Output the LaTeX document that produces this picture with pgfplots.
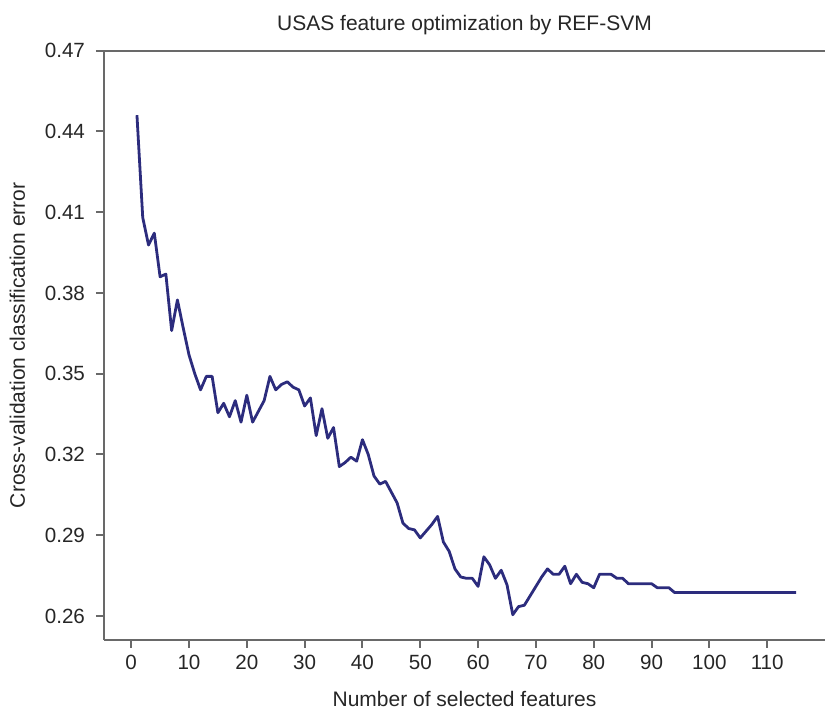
\documentclass[border=0pt]{standalone}
\usepackage{pgfplots}
\pgfplotsset{compat=1.18}
\usepackage{pgfplotstable}
\usepackage{fontspec}
\setmainfont{Liberation Sans}
\definecolor{linecol}{RGB}{44,44,125}
\definecolor{axcol}{RGB}{105,105,105}
\pgfplotstableread{
x y
1 0.446
2 0.408
3 0.3978
4 0.4022
5 0.386
6 0.387
7 0.366
8 0.3774
9 0.367
10 0.357
11 0.350
12 0.344
13 0.349
14 0.349
15 0.3355
16 0.339
17 0.334
18 0.340
19 0.332
20 0.342
21 0.332
22 0.336
23 0.340
24 0.349
25 0.344
26 0.346
27 0.347
28 0.345
29 0.344
30 0.338
31 0.341
32 0.327
33 0.337
34 0.326
35 0.330
36 0.3155
37 0.317
38 0.319
39 0.3175
40 0.3255
41 0.320
42 0.312
43 0.309
44 0.310
45 0.306
46 0.302
47 0.2945
48 0.2925
49 0.292
50 0.289
51 0.2915
52 0.294
53 0.297
54 0.2875
55 0.284
56 0.2775
57 0.2745
58 0.274
59 0.274
60 0.271
61 0.282
62 0.279
63 0.274
64 0.277
65 0.2716
66 0.2605
67 0.2635
68 0.264
69 0.2675
70 0.271
71 0.2745
72 0.2775
73 0.2755
74 0.2755
75 0.2785
76 0.272
77 0.2755
78 0.2725
79 0.272
80 0.2705
81 0.2755
82 0.2755
83 0.2755
84 0.274
85 0.274
86 0.272
87 0.272
88 0.272
89 0.272
90 0.272
91 0.2705
92 0.2705
93 0.2705
94 0.2687
95 0.2687
96 0.2687
97 0.2687
98 0.2687
99 0.2687
100 0.2687
101 0.2687
102 0.2687
103 0.2687
104 0.2687
105 0.2687
106 0.2687
107 0.2687
108 0.2687
109 0.2687
110 0.2687
111 0.2687
112 0.2687
113 0.2687
114 0.2687
115 0.2687
}\datatable
\begin{document}
\begin{tikzpicture}
\begin{axis}[
  scale only axis,
  width=360.5pt, height=294.7pt,
  xmin=-4.7, xmax=120,
  ymin=0.2511, ymax=0.47,
  axis x line*=box,
  axis y line*=left,
  axis line style={-, draw=axcol, line width=1pt},
  tick style={draw=axcol, line width=1pt},
  tick align=outside,
  major tick length=4pt,
  xtick pos=bottom, ytick pos=left,
  xtick={0,10,...,110},
  ytick={0.26,0.29,0.32,0.35,0.38,0.41,0.44,0.47},
  yticklabel style={xshift=-2pt, /pgf/number format/.cd, fixed, fixed zerofill, precision=2},
  /pgf/number format/assume math mode=true,
  ticklabel style={font=\fontsize{10.3}{12}\selectfont, text=black!85},
  xlabel={Number of selected features},
  ylabel={Cross-validation classification error},
  xlabel style={font=\fontsize{10.5}{12}\selectfont, text=black!85,
    at={(axis description cs:0.5,0)}, anchor=base, yshift=-33.3pt},
  ylabel style={font=\fontsize{10.5}{12}\selectfont, text=black!85,
    at={(axis description cs:-0.1096,0.5)}, anchor=base},
  every axis title shift=0pt,
  title={USAS feature optimization by REF-SVM},
  title style={font=\fontsize{10.5}{12}\selectfont, text=black!85,
    at={(axis description cs:0.5,1)}, anchor=base, yshift=10pt},
]
\addplot[linecol, line width=1.4pt, line join=round, no marks] table[x=x,y=y] {\datatable};
\end{axis}
\pgfresetboundingbox
\useasboundingbox ([xshift=-52pt,yshift=-34.5pt]current axis.south west) rectangle ([yshift=25.3pt]current axis.north east);
\end{tikzpicture}
\end{document}
